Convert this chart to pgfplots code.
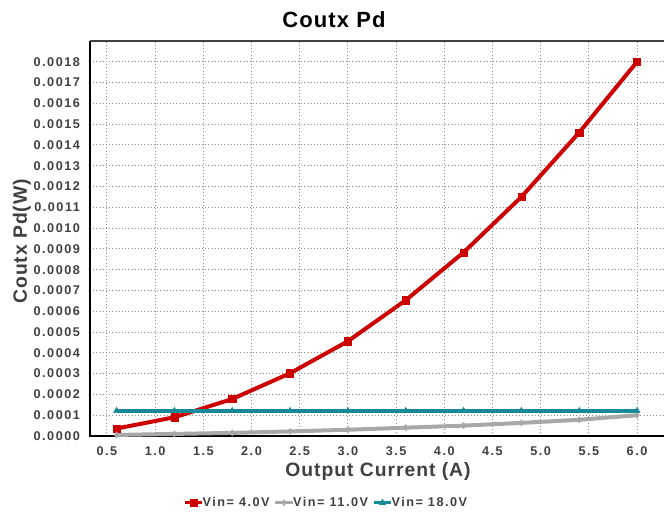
\documentclass[border=0pt]{standalone}
\usepackage{fontspec}
\setmainfont{Liberation Sans}
\newfontfamily\tickfont[LetterSpace=12]{Liberation Sans}
\newfontfamily\labfont[LetterSpace=5]{Liberation Sans}
\usepackage{pgfplots}
\pgfplotsset{compat=1.18}
\definecolor{cred}{HTML}{CC0000}
\definecolor{cgray}{HTML}{A8A8A8}
\definecolor{cteal}{HTML}{178A98}
\definecolor{ctick}{HTML}{404040}
\begin{document}
\begin{tikzpicture}
\useasboundingbox (-67.5pt,-60.75pt) rectangle (430.5pt,327pt);
\begin{axis}[
  at={(0,0)}, anchor=south west,
  scale only axis, width=430.5pt, height=296.25pt,
  xmin=0.324, xmax=6.28, ymin=0, ymax=0.00190,
  xtick={0.5,1,1.5,2,2.5,3,3.5,4,4.5,5,5.5,6},
  ytick={0,0.0001,0.0002,0.0003,0.0004,0.0005,0.0006,0.0007,0.0008,0.0009,0.0010,0.0011,0.0012,0.0013,0.0014,0.0015,0.0016,0.0017,0.0018},
  scaled x ticks=false, scaled y ticks=false,
  xticklabel style={/tikz/anchor=north, /tikz/text height=7pt, /tikz/text depth=0pt, /tikz/yshift=-4pt,
     /pgf/number format/fixed, /pgf/number format/precision=1, /pgf/number format/fixed zerofill, /pgf/number format/assume math mode=true},
  yticklabel style={/tikz/anchor=east, /tikz/xshift=-4pt,
     /pgf/number format/fixed, /pgf/number format/precision=4, /pgf/number format/fixed zerofill, /pgf/number format/assume math mode=true},
  ticklabel style={font=\tickfont\fontsize{9.5}{10}\selectfont\bfseries, text=ctick},
  major tick length=0pt,
  grid=major,
  grid style={dotted, gray!90, line width=0.7pt},
  axis line style={draw=none},
  legend style={at={(rel axis cs:0.412,-0.169)}, anchor=center, draw=none, fill=none,
    legend columns=3, font=\tickfont\fontsize{9.5}{10}\selectfont\bfseries, text=ctick,
    inner sep=0pt,
    /tikz/every even column/.append style={column sep=1pt},
    /tikz/every odd column/.append style={column sep=-3pt}},
  legend image code/.code={\draw[#1, line width=2.5pt, mark repeat=2, mark phase=2] plot coordinates {(0cm,0cm) (0.23cm,0cm) (0.46cm,0cm)};},
  clip=false,
]
\draw[black, line width=1.3pt] (rel axis cs:0,1) -- (rel axis cs:0,0) -- (rel axis cs:1,0);
\draw[ctick, line width=1pt] (rel axis cs:0,1) -- (rel axis cs:1,1);
\addplot[cred, line width=3pt, mark=square*, mark size=2.7pt, mark options={line width=0.4pt}] coordinates {
 (0.6,0.000036) (1.2,0.000090) (1.8,0.000178) (2.4,0.000302) (3.0,0.000456)
 (3.6,0.000653) (4.2,0.000883) (4.8,0.001150) (5.4,0.001460) (6.0,0.001800)};
\addlegendentry{Vin= 4.0V}
\addplot[cgray, line width=3pt, mark=diamond*, mark size=2.3pt, mark options={line width=0.4pt}] coordinates {
 (0.6,0.000005) (1.2,0.000010) (1.8,0.000015) (2.4,0.000022) (3.0,0.000030)
 (3.6,0.000040) (4.2,0.000050) (4.8,0.000063) (5.4,0.000078) (6.0,0.000100)};
\addlegendentry{Vin= 11.0V}
\addplot[cteal, line width=3pt, mark=triangle*, mark size=2.6pt, mark options={line width=0.4pt}] coordinates {
 (0.6,0.000121) (1.2,0.000121) (1.8,0.000121) (2.4,0.000121) (3.0,0.000121)
 (3.6,0.000121) (4.2,0.000121) (4.8,0.000121) (5.4,0.000121) (6.0,0.000121)};
\addlegendentry{Vin= 18.0V}
\end{axis}
\node[font=\labfont\fontsize{16.5}{18}\selectfont\bfseries] at (183pt,312pt) {Coutx Pd};
\node[font=\labfont\fontsize{14.5}{16}\selectfont\bfseries, text=ctick] at (216pt,-27pt) {Output Current (A)};
\node[font=\labfont\fontsize{14.5}{16}\selectfont\bfseries, text=ctick, rotate=90] at (-51pt,146pt) {Coutx Pd(W)};
\end{tikzpicture}
\end{document}
